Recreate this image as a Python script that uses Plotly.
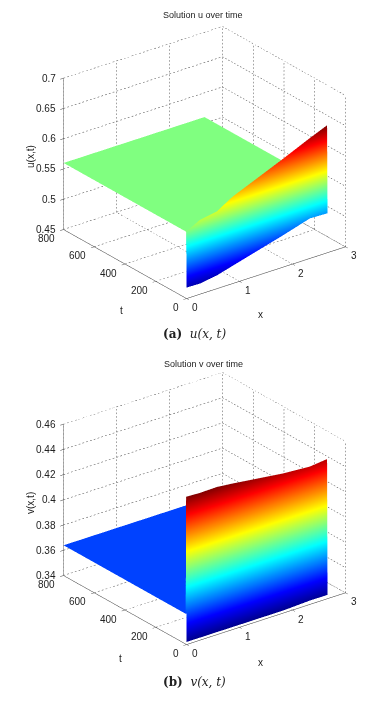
import math
import plotly.graph_objects as go

# values
x_grid = [0, 0.26, 0.58, 0.88, 1.82, 2.33, 2.66]
t_grid = [0, 3, 6, 800]

u_start = [0.468, 0.4675, 0.472, 0.4795, 0.5025, 0.516, 0.515]
u_peak = [0.56, 0.572, 0.577, 0.593, 0.628, 0.648, 0.66]
u_plateau = [0.56, 0.56, 0.56, 0.56, 0.56, 0.56, 0.56]

v_start = [0.342, 0.342, 0.342, 0.342, 0.342, 0.343, 0.343]
v_peak = [0.457, 0.4565, 0.4568, 0.4555, 0.4505, 0.449, 0.4505]
v_plateau = [0.364, 0.364, 0.364, 0.364, 0.364, 0.364, 0.364]

x_ticks = [0, 1, 2, 3]
t_ticks = [0, 200, 400, 600, 800]
u_ticks = [0.45, 0.5, 0.55, 0.6, 0.65, 0.7]
u_labels = ["0.45", "0.5", "0.55", "0.6", "0.65", "0.7"]
v_ticks = [0.34, 0.36, 0.38, 0.4, 0.42, 0.44, 0.46]
v_labels = ["0.34", "0.36", "0.38", "0.4", "0.42", "0.44", "0.46"]

jet = [[0, "rgb(0,0,143)"], [0.125, "rgb(0,0,255)"], [0.375, "rgb(0,255,255)"],
       [0.625, "rgb(255,255,0)"], [0.875, "rgb(255,0,0)"], [1, "rgb(128,0,0)"]]

FONT = "Liberation Sans"
W, H = 389, 704

# view direction worked out from the axis directions in the picture
elev = math.radians(25.3)
azim = math.radians(52.7)
dist = 2.0
eye = dict(x=-dist * math.cos(azim) * math.cos(elev),
           y=-dist * math.sin(azim) * math.cos(elev),
           z=dist * math.sin(elev))


def dotted(xs, ys, zs, a, b, n=42):
    # plotly's own dash comes out too long in 3d, so break the line up by hand
    for i in range(n):
        f0 = i / n
        f1 = (i + 0.45) / n
        for f in (f0, f1):
            xs.append(a[0] + (b[0] - a[0]) * f)
            ys.append(a[1] + (b[1] - a[1]) * f)
            zs.append(a[2] + (b[2] - a[2]) * f)
        xs.append(None)
        ys.append(None)
        zs.append(None)


def grid_trace(scene, z_ticks):
    # dotted grid on the floor and the two back walls
    xs, ys, zs = [], [], []
    z0, z1 = z_ticks[0], z_ticks[-1]
    for v in x_ticks:
        dotted(xs, ys, zs, (v, 0, z0), (v, 800, z0))
        dotted(xs, ys, zs, (v, 800, z0), (v, 800, z1))
    for v in t_ticks:
        dotted(xs, ys, zs, (0, v, z0), (3, v, z0))
        dotted(xs, ys, zs, (3, v, z0), (3, v, z1))
    for v in z_ticks:
        dotted(xs, ys, zs, (0, 800, v), (3, 800, v))
        dotted(xs, ys, zs, (3, 800, v), (3, 0, v))
    return go.Scatter3d(x=xs, y=ys, z=zs, mode="lines", scene=scene, showlegend=False,
                        line=dict(color="#444444", width=1), hoverinfo="skip")


def axis(vals, rng):
    return dict(range=rng, tickvals=vals, showticklabels=False, showgrid=False, zeroline=False,
                showbackground=False, showspikes=False, showline=True, linecolor="#333333",
                linewidth=1, ticks="outside", ticklen=4, tickcolor="#333333", title=dict(text=""))


def tick_labels(z_ticks, z_labels):
    # plotly tilts its 3d tick labels, the picture has them flat
    font = dict(family=FONT, size=10, color="#222222")
    notes = []
    for v in x_ticks:
        notes.append(dict(x=v, y=0, z=z_ticks[0], text=str(v), showarrow=False, xshift=8, yshift=-9,
                          xanchor="center", yanchor="middle", font=font))
    for v in t_ticks:
        notes.append(dict(x=0, y=v, z=z_ticks[0], text=str(v), showarrow=False, xshift=-6, yshift=-9,
                          xanchor="right", yanchor="middle", font=font))
    for v, s in zip(z_ticks, z_labels):
        notes.append(dict(x=0, y=800, z=v, text=s, showarrow=False, xshift=-5,
                          xanchor="right", yanchor="middle", font=font))
    return notes


def scene_layout(z_ticks, z_labels, top, bottom):
    return dict(domain=dict(x=[20 / W, 1], y=[1 - bottom / H, 1 - top / H]),
                xaxis=axis(x_ticks, [0, 3]),
                yaxis=axis(t_ticks, [0, 800]),
                zaxis=axis(z_ticks, [z_ticks[0], z_ticks[-1]]),
                aspectmode="manual", aspectratio=dict(x=1.23, y=1.25, z=1.03),
                annotations=tick_labels(z_ticks, z_labels),
                camera=dict(eye=eye, center=dict(x=0, y=0, z=0), up=dict(x=0, y=0, z=1),
                            projection=dict(type="orthographic")))


light = dict(ambient=1, diffuse=0, specular=0, roughness=1, fresnel=0)

fig = go.Figure()
fig.add_trace(go.Surface(x=x_grid, y=t_grid, z=[u_start, u_peak, u_plateau, u_plateau], scene="scene",
                         colorscale=jet, cmin=0.46, cmax=0.66, showscale=False, lighting=light,
                         hoverinfo="skip"))
fig.add_trace(grid_trace("scene", u_ticks))
fig.add_trace(go.Surface(x=x_grid, y=t_grid, z=[v_start, v_peak, v_plateau, v_plateau], scene="scene2",
                         colorscale=jet, showscale=False, lighting=light, hoverinfo="skip"))
fig.add_trace(grid_trace("scene2", v_ticks))


def text(s, px, py, size=9, family=FONT, angle=0):
    return dict(text=s, x=px / W, y=1 - py / H, xref="paper", yref="paper", showarrow=False,
                xanchor="center", yanchor="middle", textangle=angle,
                font=dict(family=family, size=size, color="#222222"))


fig.update_layout(
    width=W, height=H, margin=dict(l=0, r=0, t=0, b=0), paper_bgcolor="white",
    showlegend=False,
    scene=scene_layout(u_ticks, u_labels, 0, 325),
    scene2=scene_layout(v_ticks, v_labels, 346, 671),
    annotations=[
        text("Solution u over time", 203, 15),
        text("u(x,t)", 30, 157, size=10, angle=-90),
        text("t", 121, 310, size=10),
        text("x", 260, 314, size=10),
        text("<b>(a)</b>  <i>u(x, t)</i>", 194, 334, size=12, family="DejaVu Serif"),
        text("Solution v over time", 203, 364),
        text("v(x,t)", 30, 503, size=10, angle=-90),
        text("t", 120, 658, size=10),
        text("x", 260, 662, size=10),
        text("<b>(b)</b>  <i>v(x, t)</i>", 194, 682, size=12, family="DejaVu Serif"),
    ],
)

fig.write_html("out.html", config=dict(displayModeBar=False),
               post_script="document.body.style.margin='0';")
